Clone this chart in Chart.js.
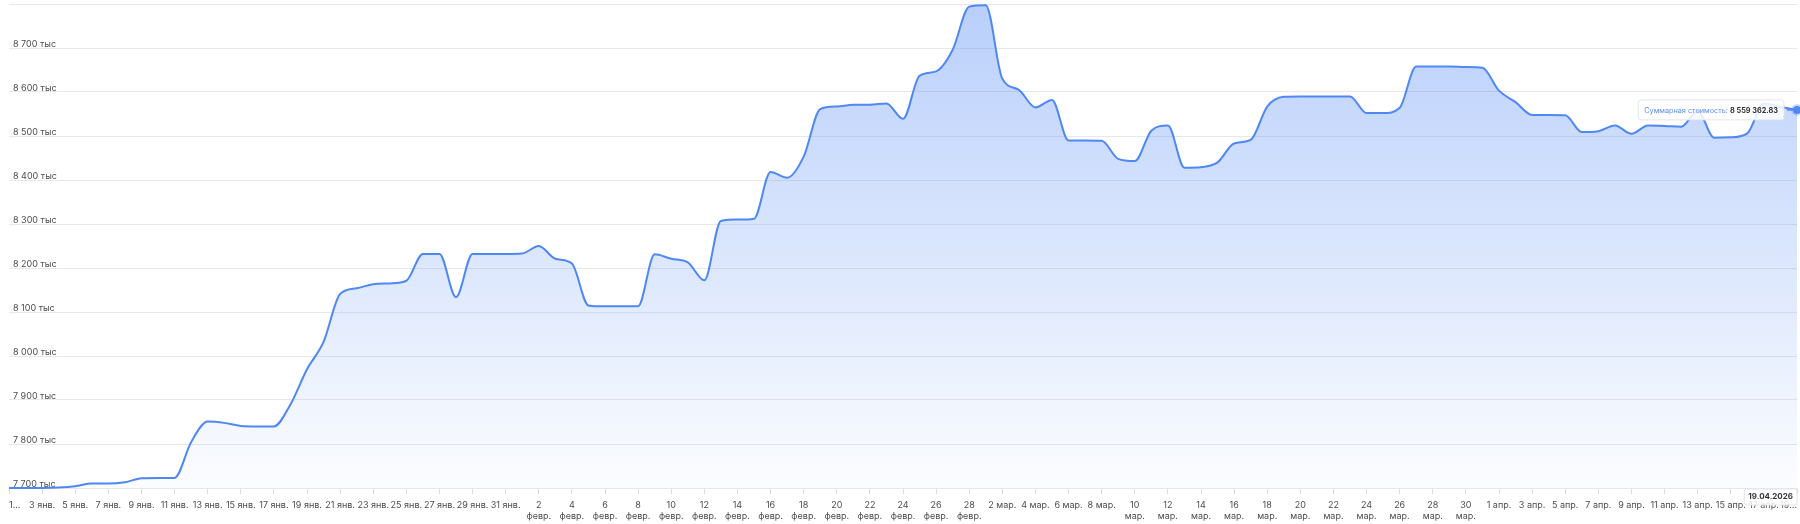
<!DOCTYPE html>
<html lang="ru">
<head>
<meta charset="utf-8">
<script src="https://cdn.jsdelivr.net/npm/chart.js@4.4.1/dist/chart.umd.min.js"></script>
<style>
    html, body { margin: 0; padding: 0; background: #fff; }
    #chartContainer { width: 1800px; height: 524px; position: relative; }
</style>
</head>
<body>
<div id="chartContainer"><canvas id="chartPortfolio"></canvas></div>
<script>
// Dates: 1 Jan .. 19 Apr 2026
const year = 2026;
const monthNames = ['янв.', 'февр.', 'мар.', 'апр.'];
const monthDays = [31, 28, 31, 19];
// day from which a label is split in two lines (per month)
const wrapFromDay = [99, 1, 10, 99];

const seriesName = 'Суммарная стоимость';

// daily values, thousands of rubles
const values = [
    7700, 7700, 7700, 7701, 7704, 7710, 7710, 7713, 7722, 7723,
    7723, 7804, 7851, 7848, 7841, 7840, 7840, 7890, 7970, 8032,
    8141, 8154, 8163, 8165, 8171, 8232, 8232, 8134, 8232, 8232,
    8232, 8233, 8250, 8221, 8210, 8115, 8113, 8113, 8113, 8231,
    8221, 8213, 8172, 8307, 8310, 8312, 8418, 8405, 8453, 8561,
    8567, 8571, 8571, 8574, 8539, 8637, 8647, 8696, 8794, 8797,
    8630, 8605, 8565, 8582, 8490, 8490, 8489, 8448, 8443, 8512,
    8524, 8428, 8429, 8440, 8483, 8491, 8567, 8589, 8590, 8590,
    8590, 8590, 8552, 8552, 8564, 8658, 8658, 8658, 8657, 8655,
    8603, 8577, 8548, 8548, 8547, 8509, 8511, 8524, 8505, 8524,
    8523, 8521, 8557, 8496, 8497, 8506, 8574, 8566, 8559.36283
];

const yMin = 7700;
const yMax = 8800;
const yStep = 100;

const lineColor = '#4f87f5';
const textColor = '#4d4d4d';
const gridColor = '#e8e8e8';

// build category labels
const labels = [];
const labelParts = [];
monthDays.forEach((n, m) => {
    for (let d = 1; d <= n; d++) {
        labels.push(d + ' ' + monthNames[m]);
        labelParts.push({ day: d, month: m });
    }
});

function fmtInt(n) {
    return String(n).replace(/\B(?=(\d{3})+(?!\d))/g, ' ');
}

function fmtValue(v) {
    const parts = (v * 1000).toFixed(2).split('.');
    return fmtInt(parts[0]) + '.' + parts[1];
}

function lastDateText() {
    const p = labelParts[labelParts.length - 1];
    const dd = String(p.day).padStart(2, '0');
    const mm = String(p.month + 1).padStart(2, '0');
    return dd + '.' + mm + '.' + year;
}

function roundRect(ctx, x, y, w, h, r) {
    ctx.beginPath();
    ctx.moveTo(x + r, y);
    ctx.lineTo(x + w - r, y);
    ctx.quadraticCurveTo(x + w, y, x + w, y + r);
    ctx.lineTo(x + w, y + h - r);
    ctx.quadraticCurveTo(x + w, y + h, x + w - r, y + h);
    ctx.lineTo(x + r, y + h);
    ctx.quadraticCurveTo(x, y + h, x, y + h - r);
    ctx.lineTo(x, y + r);
    ctx.quadraticCurveTo(x, y, x + r, y);
    ctx.closePath();
}

// hover-style tooltip and date label on the last point
const lastPointPlugin = {
    id: 'lastPoint',
    afterDraw(chart) {
        const meta = chart.getDatasetMeta(0);
        const pt = meta.data[meta.data.length - 1];
        const area = chart.chartArea;
        const ctx = chart.ctx;
        ctx.save();

        // tooltip box
        const nameText = seriesName + ': ';
        const valText = fmtValue(values[values.length - 1]);
        ctx.font = '7.3px Inter';
        const nameW = ctx.measureText(nameText).width;
        ctx.font = 'bold 7.3px Inter';
        const valW = ctx.measureText(valText).width;
        const boxW = nameW + valW + 12;
        const boxH = 20;
        const bx = pt.x - 13 - boxW;
        const by = pt.y - boxH / 2;
        roundRect(ctx, bx, by, boxW, boxH, 3);
        ctx.fillStyle = 'rgba(255,255,255,0.85)';
        ctx.fill();
        ctx.strokeStyle = '#e2e5eb';
        ctx.lineWidth = 1;
        ctx.stroke();

        ctx.textBaseline = 'middle';
        ctx.textAlign = 'left';
        ctx.font = '7.3px Inter';
        ctx.fillStyle = '#5b8def';
        ctx.fillText(nameText, bx + 6, pt.y + 0.5);
        ctx.font = 'bold 7.3px Inter';
        ctx.fillStyle = '#333';
        ctx.fillText(valText, bx + 6 + nameW, pt.y + 0.5);

        ctx.beginPath();
        ctx.moveTo(bx + boxW + 3, pt.y);
        ctx.lineTo(pt.x - 3, pt.y);
        ctx.strokeStyle = lineColor;
        ctx.lineWidth = 1.5;
        ctx.stroke();

        // date label on x axis
        const dText = lastDateText();
        ctx.font = 'bold 8px Inter';
        const dW = ctx.measureText(dText).width + 8;
        const dH = 16;
        const dx = Math.min(pt.x - dW / 2, area.right - dW);
        const dy = area.bottom + 1;
        roundRect(ctx, dx, dy, dW, dH, 2);
        ctx.fillStyle = 'rgba(255,255,255,0.85)';
        ctx.fill();
        ctx.strokeStyle = '#e2e5eb';
        ctx.lineWidth = 1;
        ctx.stroke();
        ctx.fillStyle = '#333';
        ctx.textAlign = 'center';
        ctx.fillText(dText, dx + dW / 2, dy + dH / 2);

        ctx.restore();
    }
};

const lastIndex = values.length - 1;

new Chart(document.getElementById('chartPortfolio').getContext('2d'), {
    type: 'line',
    data: {
        labels: labels,
        datasets: [{
            label: seriesName,
            data: values,
            borderColor: lineColor,
            borderWidth: 2,
            cubicInterpolationMode: 'monotone',
            fill: 'start',
            backgroundColor: (c) => {
                const area = c.chart.chartArea;
                if (!area) return 'rgba(79,135,245,0.2)';
                const g = c.chart.ctx.createLinearGradient(0, area.top, 0, area.bottom);
                g.addColorStop(0, 'rgba(79,135,245,0.40)');
                g.addColorStop(1, 'rgba(79,135,245,0.02)');
                return g;
            },
            pointRadius: (c) => c.dataIndex === lastIndex ? 4 : 0,
            pointBackgroundColor: lineColor,
            pointBorderColor: 'rgba(79,135,245,0.3)',
            pointBorderWidth: 4,
            clip: 10
        }]
    },
    options: {
        responsive: true,
        maintainAspectRatio: false,
        animation: false,
        layout: { autoPadding: false, padding: { left: 5, top: 4, right: 3, bottom: 0 } },
        plugins: {
            legend: { display: false },
            tooltip: { enabled: false }
        },
        scales: {
            x: {
                afterFit: (s) => {
                    s.height = 36;
                    s.paddingLeft = 0;
                    s.paddingRight = 0;
                },
                grid: {
                    drawOnChartArea: false,
                    drawTicks: true,
                    tickLength: 6,
                    tickColor: (c) => c.index % 2 ? 'rgba(0,0,0,0)' : '#dcdcdc'
                },
                border: { display: true, color: gridColor },
                ticks: {
                    autoSkip: false,
                    maxRotation: 0,
                    align: 'inner',
                    padding: 6,
                    color: textColor,
                    font: { family: 'Inter', size: 9, lineHeight: 1.2 },
                    callback: function (value, index) {
                        if (index % 2) return '';
                        const p = labelParts[index];
                        if (index === 0 || index === lastIndex) return p.day + '...';
                        if (p.day >= wrapFromDay[p.month]) return [String(p.day), monthNames[p.month]];
                        return labels[index];
                    }
                }
            },
            y: {
                min: yMin,
                max: yMax,
                afterFit: (s) => {
                    s.width = 4;
                    s.paddingTop = 0;
                    s.paddingBottom = 0;
                },
                grid: { color: gridColor, drawTicks: false },
                border: { display: false },
                ticks: {
                    stepSize: yStep,
                    mirror: true,
                    padding: 4,
                    labelOffset: -4,
                    color: textColor,
                    font: { family: 'Inter', size: 9 },
                    callback: (v) => v === yMax ? '' : fmtInt(v) + ' тыс'
                }
            }
        }
    },
    plugins: [lastPointPlugin]
});
</script>
</body>
</html>
